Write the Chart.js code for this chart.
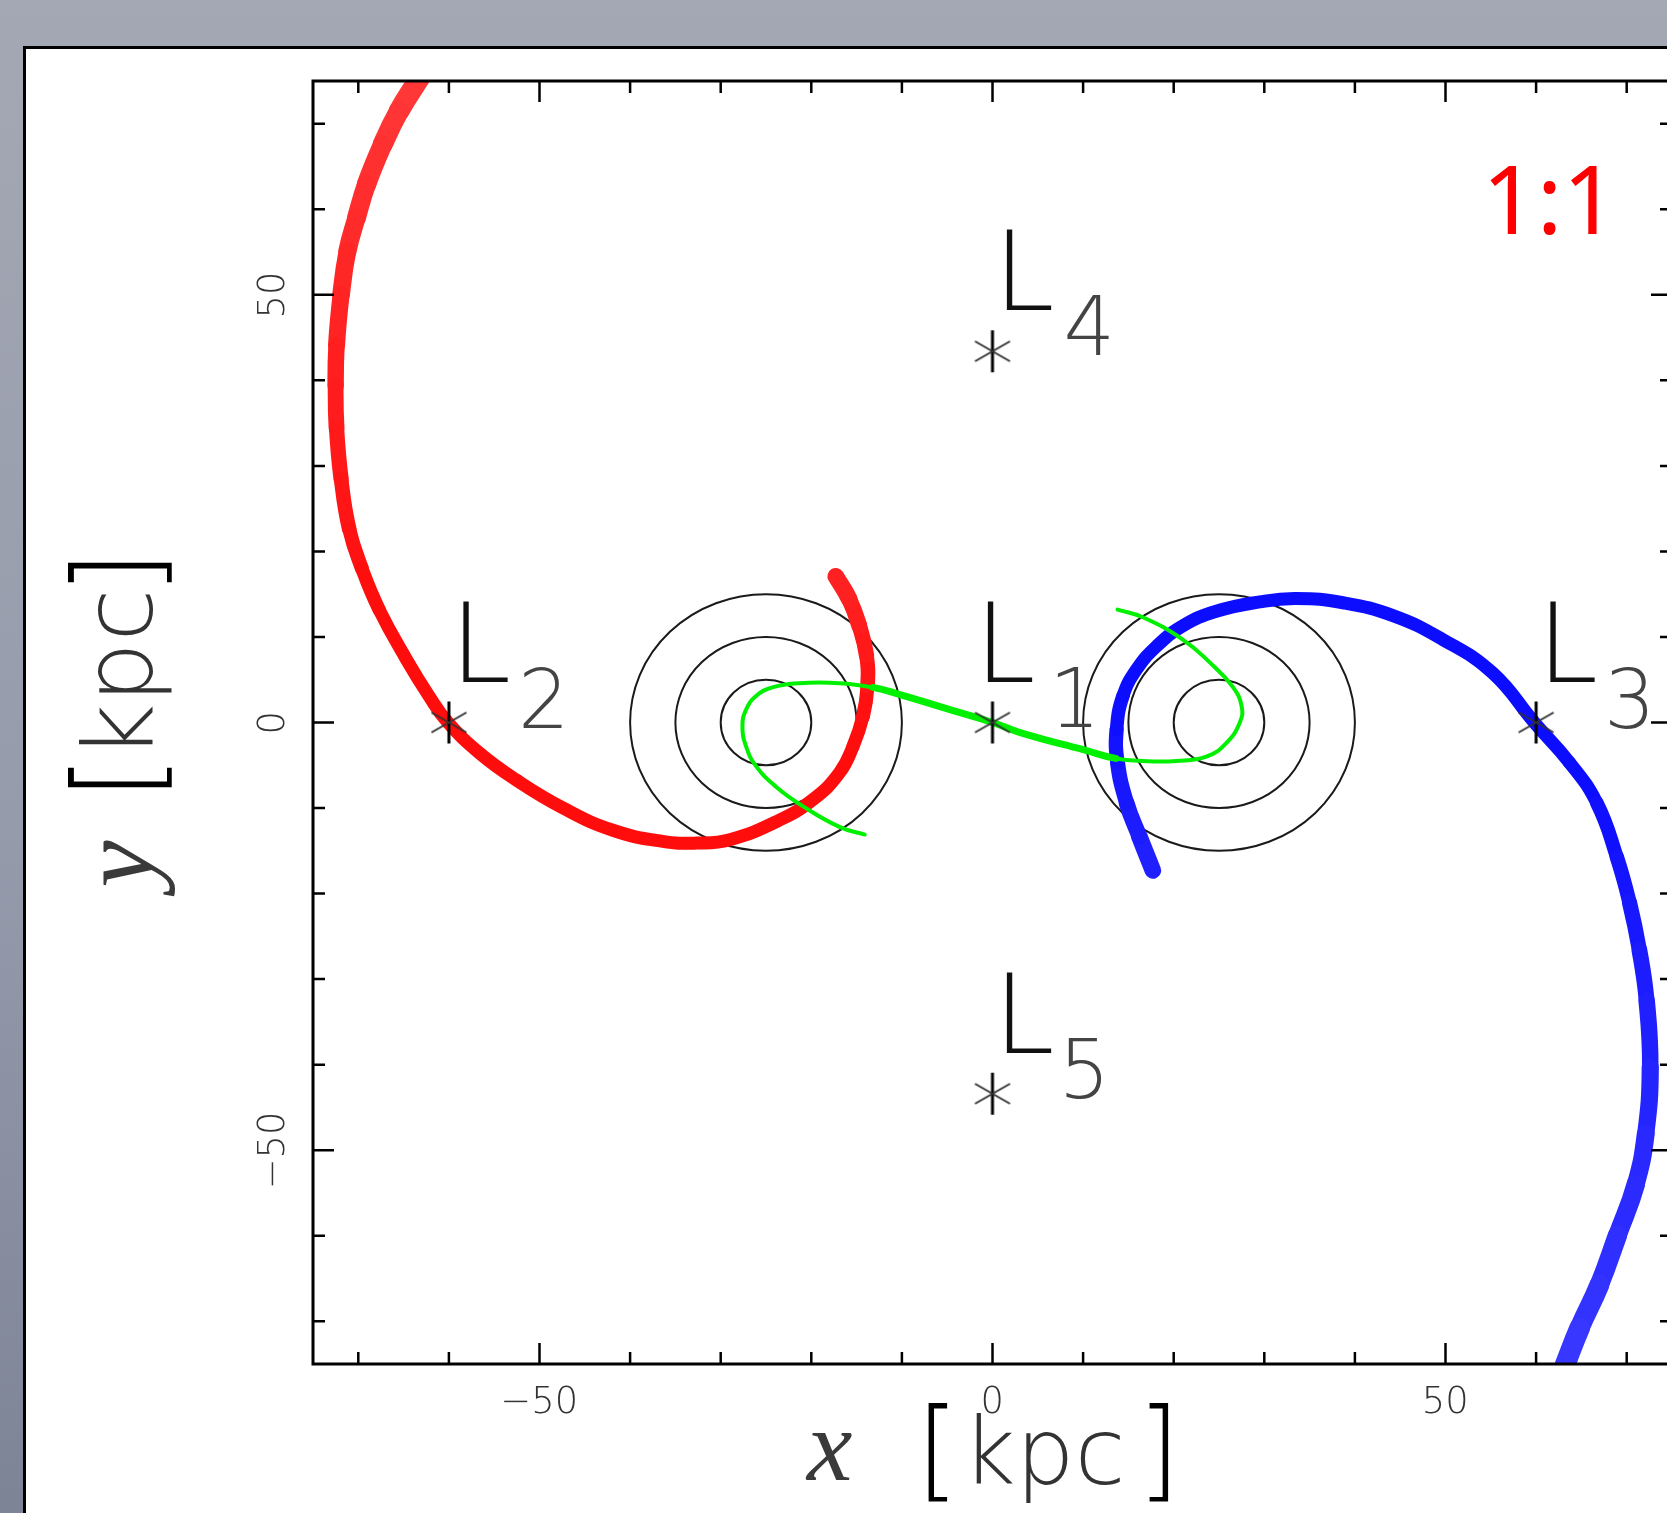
<!DOCTYPE html>
<html>
<head>
<meta charset="utf-8">
<script src="https://cdn.jsdelivr.net/npm/chart.js@4.4.1/dist/chart.umd.min.js"></script>
<style>
html, body { margin: 0; padding: 0; overflow: hidden; width: 1667px; height: 1513px;
  background: linear-gradient(180deg, #a4a8b4 0%, #959bab 55%, #7d8496 100%); }
#panel { position: absolute; left: 23px; top: 46px; width: 1700px; height: 1600px;
  background: #fff; border-left: 3px solid #000; border-top: 3px solid #000; }
#wrap { position: absolute; left: 0; top: 0; width: 1700px; height: 1513px; }
</style>
</head>
<body>
<div id="panel"></div>
<div id="wrap"><canvas id="chart" width="1700" height="1513"></canvas></div>
<script>
// orbit traces (kpc)
var redX = [-63.2, -65.5, -67.3, -69.1, -70.2, -71.2, -71.9, -72.4, -72.5, -72.4, -71.9, -71.0, -69.6, -67.7, -64.7, -62.2, -60.1, -56.6, -52.6, -47.4, -41.9, -36.4, -32.7, -29.0, -23.5, -19.8, -16.9, -15.4, -14.3, -13.8, -13.9, -14.7, -15.8, -17.3];
var redY = [75.4, 71.5, 67.6, 62.9, 59.0, 55.1, 50.0, 44.1, 39.4, 34.4, 28.5, 22.6, 18.0, 13.2, 7.4, 3.1, 0.0, -3.6, -6.7, -10.0, -12.6, -13.9, -14.1, -13.7, -11.4, -9.0, -5.9, -2.8, 0.7, 4.2, 7.8, 11.3, 14.4, 17.1];

var blueX = [17.7, 16.2, 14.8, 13.8, 13.7, 14.4, 15.9, 18.1, 21.0, 24.7, 29.5, 33.5, 38.7, 44.2, 49.7, 55.2, 59.8, 63.7, 66.7, 68.9, 70.3, 71.4, 72.2, 72.6, 72.1, 71.0, 69.0, 67.0, 64.8, 63.2];
var blueY = [-17.3, -13.3, -9.4, -4.7, -0.8, 3.1, 6.2, 8.9, 11.3, 13.0, 14.1, 14.5, 14.0, 12.5, 9.7, 5.8, 0.0, -4.7, -9.4, -15.7, -21.0, -26.6, -32.5, -40.3, -48.1, -54.0, -59.9, -65.7, -70.8, -75.1];

var greenX = [-14.1, -16.9, -20.9, -23.9, -26.1, -27.2, -27.6, -27.2, -26.1, -24.3, -21.3, -16.9, -13.2, -10.3, -4.7, 0.0, 3.7, 10.1, 13.6, 16.6, 20.3, 23.6, 25.8, 27.3, 27.5, 26.5, 24.0, 21.0, 16.6, 13.8];
var greenY = [-13.1, -12.2, -9.8, -7.5, -5.1, -2.8, -0.4, 1.5, 3.1, 4.1, 4.6, 4.6, 4.1, 3.3, 1.5, 0.0, -1.4, -3.2, -4.2, -4.5, -4.5, -4.0, -2.4, 0.0, 1.9, 4.2, 7.0, 9.7, 12.3, 13.2];

// Lagrange points
var lagNames = ['1', '2', '3', '4', '5'];
var lagX = [0, -60, 60, 0, 0];
var lagY = [0, 0, 0, 43.4, -43.4];

// potential contours around the two galaxies
var circleX = [-25, 25];
var circleR = [5, 10, 15];

// axes
var axisMin = -75, axisMax = 75;
var tickVals = [-70, -60, -50, -40, -30, -20, -10, 0, 10, 20, 30, 40, 50, 60, 70];
var labelVals = [-50, 0, 50];

function pts(xs, ys) {
    return xs.map(function (x, i) { return { x: x, y: ys[i] }; });
}

// tails fan out towards their tips: wider and paler there
function tailWidth(t) {
    return 13 + 8 * Math.max(0, 1 - t / 0.4) + 4 * Math.max(0, (t - 0.82) / 0.18);
}
function tailStyle(n, reversed, base) {
    function w(c) {
        var i = (c.p0DataIndex + c.p1DataIndex) / 2 / (n - 1);
        return tailWidth(reversed ? 1 - i : i);
    }
    return {
        borderWidth: w,
        borderColor: function (c) {
            var k = Math.round(12 + 45 * (w(c) - 13) / 8);
            return base === 'r' ? 'rgb(255,' + k + ',' + k + ')' : 'rgb(' + k + ',' + k + ',255)';
        }
    };
}

// asterisk marker
var star = document.createElement('canvas');
star.width = 48; star.height = 48;
(function () {
    var s = star.getContext('2d');
    s.strokeStyle = '#000'; s.lineWidth = 3;
    s.beginPath(); s.moveTo(24, 3); s.lineTo(24, 45); s.stroke();
    s.strokeStyle = '#333'; s.lineWidth = 2;
    s.beginPath(); s.moveTo(6.5, 14); s.lineTo(41.5, 34); s.stroke();
    s.beginPath(); s.moveTo(6.5, 34); s.lineTo(41.5, 14); s.stroke();
})();

function fmt(v) { return v < 0 ? '\u2212' + Math.abs(v) : String(v); }

// size a font so the glyph box of `ref` is h pixels tall
function fitFont(ctx, ref, style, family, h) {
    ctx.font = style + ' 100px ' + family;
    var m = ctx.measureText(ref);
    var size = 100 * h / (m.actualBoundingBoxAscent + m.actualBoundingBoxDescent);
    return style + ' ' + size.toFixed(2) + 'px ' + family;
}
// draw text with its glyph box starting at left/top
function drawAt(ctx, text, font, left, top, color) {
    ctx.font = font;
    var m = ctx.measureText(text);
    ctx.fillStyle = color;
    ctx.textAlign = 'left'; ctx.textBaseline = 'alphabetic';
    ctx.fillText(text, left + m.actualBoundingBoxLeft, top + m.actualBoundingBoxAscent);
}
function drawCentered(ctx, text, font, cx, top, color) {
    ctx.font = font;
    var m = ctx.measureText(text);
    ctx.fillStyle = color;
    ctx.textAlign = 'left'; ctx.textBaseline = 'alphabetic';
    ctx.fillText(text, cx - (m.actualBoundingBoxRight - m.actualBoundingBoxLeft) / 2, top + m.actualBoundingBoxAscent);
}
function fitBox(ctx, text, style, family, left, top, bottom, color) {
    drawAt(ctx, text, fitFont(ctx, text, style, family, bottom - top), left, top, color);
}

var thin = '"DejaVu Sans", sans-serif';
var serif = '"Liberation Serif", serif';

var decor = {
    id: 'decor',
    beforeDatasetsDraw: function (chart) {
        var ctx = chart.ctx, a = chart.chartArea;
        var xs = chart.scales.x, ys = chart.scales.y;
        ctx.save();
        ctx.beginPath(); ctx.rect(a.left, a.top, a.right - a.left, a.bottom - a.top); ctx.clip();
        ctx.strokeStyle = '#1a1a1a'; ctx.lineWidth = 2;
        circleX.forEach(function (cx) {
            circleR.forEach(function (r) {
                var px = xs.getPixelForValue(cx), py = ys.getPixelForValue(0);
                var rx = Math.abs(xs.getPixelForValue(cx + r) - px);
                var ry = Math.abs(ys.getPixelForValue(r) - py);
                ctx.beginPath(); ctx.ellipse(px, py, rx, ry, 0, 0, Math.PI * 2); ctx.stroke();
            });
        });
        ctx.restore();
    },
    afterDraw: function (chart) {
        var ctx = chart.ctx, a = chart.chartArea;
        var xs = chart.scales.x, ys = chart.scales.y;
        ctx.save();
        // frame and inward ticks
        ctx.strokeStyle = '#000'; ctx.lineWidth = 3;
        ctx.strokeRect(a.left, a.top, a.right - a.left, a.bottom - a.top);
        ctx.lineWidth = 2.5;
        tickVals.forEach(function (v) {
            var len = labelVals.indexOf(v) >= 0 ? 21 : 12;
            var px = xs.getPixelForValue(v), py = ys.getPixelForValue(v);
            ctx.beginPath();
            ctx.moveTo(px, a.bottom); ctx.lineTo(px, a.bottom - len);
            ctx.moveTo(px, a.top); ctx.lineTo(px, a.top + len);
            ctx.moveTo(a.left, py); ctx.lineTo(a.left + len, py);
            ctx.moveTo(a.right, py); ctx.lineTo(a.right - len, py);
            ctx.stroke();
        });

        // tick labels
        var tf = fitFont(ctx, '50', '200', thin, 28);
        labelVals.forEach(function (v) {
            drawCentered(ctx, fmt(v), tf, xs.getPixelForValue(v), a.bottom + 21, '#333');
        });
        ctx.save();
        ctx.rotate(-Math.PI / 2);
        labelVals.forEach(function (v) {
            drawCentered(ctx, fmt(v), tf, -ys.getPixelForValue(v), a.left - 57, '#333');
        });
        ctx.restore();

        // axis titles
        var top = a.bottom + 39;
        fitBox(ctx, 'x', 'italic', serif, 805, top + 30, top + 77, '#3a3a3a');
        fitBox(ctx, '[', '200', thin, 928, top, top + 100, '#000');
        fitBox(ctx, 'kpc', '200', thin, 976, top + 10, top + 100, '#333');
        fitBox(ctx, ']', '200', thin, 1149, top, top + 100, '#000');

        ctx.save();
        ctx.rotate(-Math.PI / 2);
        var yc = (a.top + a.bottom) / 2;
        fitBox(ctx, 'y', 'italic', serif, -yc - 174, 103, 175, '#3a3a3a');
        fitBox(ctx, '[', '200', thin, -yc - 65, 68, 173, '#000');
        fitBox(ctx, 'kpc', '200', thin, -yc - 22, 79, 173, '#333');
        fitBox(ctx, ']', '200', thin, -yc + 140, 68, 173, '#000');
        ctx.restore();

        // Lagrange point labels
        var lf = fitFont(ctx, 'L', '200', thin, 80);
        var df = fitFont(ctx, '4', '200', thin, 60);
        lagNames.forEach(function (n, i) {
            var px = xs.getPixelForValue(lagX[i]), py = ys.getPixelForValue(lagY[i]);
            var shift = n === '1' ? -19 : 0;
            drawAt(ctx, 'L', lf, px + 14 + shift, py - 122, '#111');
            drawAt(ctx, n, df, px + 74 + shift * 0.5, py - 56, '#444');
        });

        // mass ratio tag
        drawAt(ctx, '1:1', fitFont(ctx, '1', 'normal', '"Noto Sans", "Open Sans", sans-serif', 69),
            1490, 166, '#ff0000');
        ctx.restore();
    }
};

var common = { showLine: true, pointRadius: 0, clip: 0, borderCapStyle: 'round', borderJoinStyle: 'round' };

new Chart(document.getElementById('chart').getContext('2d'), {
    type: 'scatter',
    data: {
        datasets: [
            { label: 'L points', data: pts(lagX, lagY), pointStyle: star, pointRadius: 20,
              showLine: false, clip: false, order: 0 },
            Object.assign({ label: 'bridge', data: pts(greenX, greenY), borderColor: '#00f000',
              borderWidth: 5, tension: 0.45, order: 1,
              segment: { borderWidth: function (c) {
                  return Math.abs(greenX[c.p0DataIndex]) < 16 && Math.abs(greenX[c.p1DataIndex]) < 16 ? 7 : 4;
              } } }, common),
            Object.assign({ label: 'tail 1', data: pts(redX, redY), borderColor: '#ff0a0a',
              borderWidth: 13, tension: 0.45, order: 2, segment: tailStyle(redX.length, false, 'r') }, common),
            Object.assign({ label: 'tail 2', data: pts(blueX, blueY), borderColor: '#0a0aff',
              borderWidth: 13, tension: 0.45, order: 3, segment: tailStyle(blueX.length, true, 'b') }, common)
        ]
    },
    options: {
        responsive: false,
        animation: false,
        devicePixelRatio: 1,
        events: [],
        layout: { padding: { left: 313, top: 81, right: 28, bottom: 149 } },
        plugins: { legend: { display: false }, tooltip: { enabled: false } },
        scales: {
            x: { type: 'linear', min: axisMin, max: axisMax, display: false },
            y: { type: 'linear', min: axisMin, max: axisMax, display: false }
        }
    },
    plugins: [decor]
});
</script>
</body>
</html>
